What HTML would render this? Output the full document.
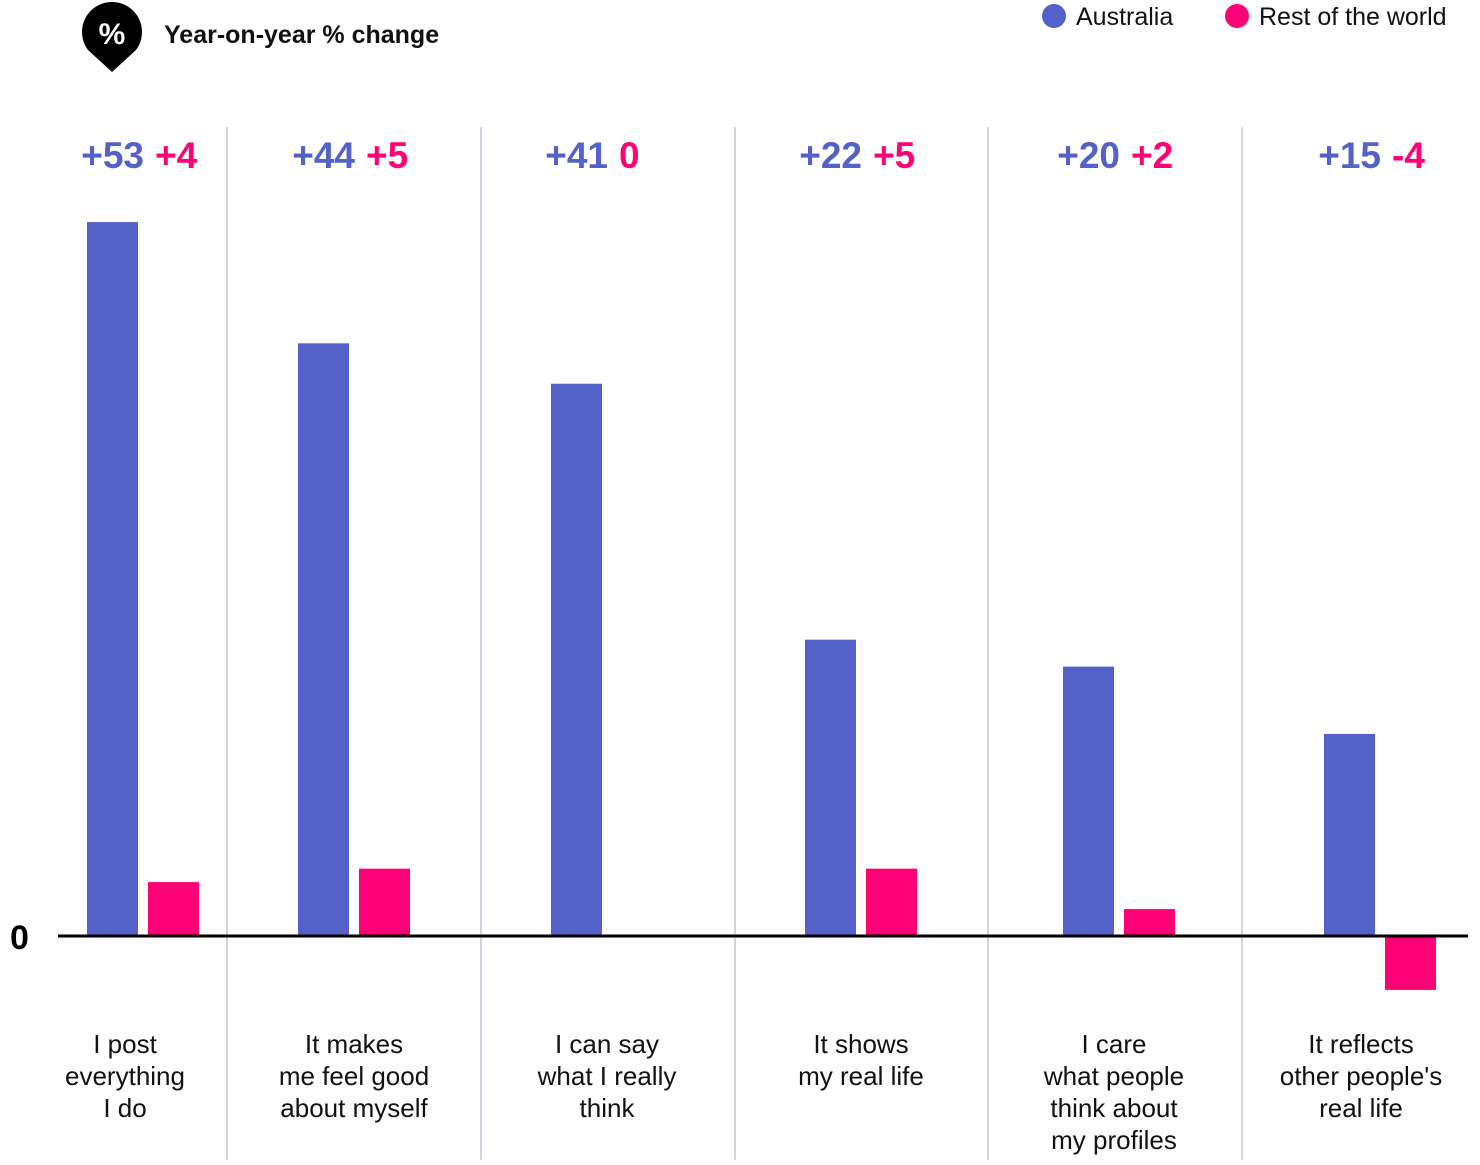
<!DOCTYPE html>
<html><head><meta charset="utf-8"><style>
body{margin:0;background:#fff;}
svg text{font-family:"Liberation Sans",sans-serif;}
</style></head><body>
<svg id="chart" width="1480" height="1160" viewBox="0 0 1480 1160" xmlns="http://www.w3.org/2000/svg">
<g>
<path d="M112 72 L88 50 A30 30 0 1 1 136 50 Z" fill="#000"/>
<text x="112" y="44" font-size="30" font-weight="bold" fill="#fff" text-anchor="middle">%</text>
</g>
<text x="164" y="43" font-size="25" font-weight="bold" fill="#111">Year-on-year % change</text>
<g>
<circle cx="1054" cy="16" r="12" fill="#5461C8"/>
<text x="1076" y="25" font-size="25" fill="#111">Australia</text>
<circle cx="1237" cy="16" r="12" fill="#FF0077"/>
<text x="1259" y="25" font-size="25" fill="#111">Rest of the world</text>
</g>
<g id="plot"></g>
</svg>
<script>
const categories=[["I post","everything","I do"],["It makes","me feel good","about myself"],["I can say","what I really","think"],["It shows","my real life"],["I care","what people","think about","my profiles"],["It reflects","other people's","real life"]];
const australia=[53,44,41,22,20,15];
const restOfWorld=[4,5,0,5,2,-4];
const ausLabels=["+53","+44","+41","+22","+20","+15"];
const rowLabels=["+4","+5","0","+5","+2","-4"];
const NS="http://www.w3.org/2000/svg";
const g=document.getElementById('plot');
const zeroY=936, pxPerUnit=13.47;
function y(v){return zeroY-v*pxPerUnit;}
const centers=[143,354,607,861,1119,1380];
function xc(i){return centers[i];}
function mk(t,a){const e=document.createElementNS(NS,t);for(const k in a)e.setAttribute(k,a[k]);g.appendChild(e);return e;}
[227,481,735,988,1242].forEach(function(dx){
const l=mk('line',{x1:dx,x2:dx,y1:127,y2:1160,stroke:'#d4d4e0','stroke-width':2});


});
categories.forEach(function(c,i){
const cx=xc(i);
const b=mk('rect',{x:cx-56,width:51,y:Math.min(y(australia[i]),zeroY),height:Math.abs(y(australia[i])-zeroY),fill:'#5461C8'});


const p=mk('rect',{x:cx+5,width:51,y:Math.min(y(restOfWorld[i]),zeroY),height:Math.abs(y(restOfWorld[i])-zeroY),fill:'#FF0077'});


const t1=mk('text',{x:cx+1,y:168,'font-size':37,'font-weight':'bold',fill:'#5461C8','text-anchor':'end'});
t1.textContent=ausLabels[i];


const t2=mk('text',{x:cx+12,y:168,'font-size':37,'font-weight':'bold',fill:'#FF0077'});
t2.textContent=rowLabels[i];


const lx=[125,354,607,861,1114,1361][i];
const lab=mk('text',{x:lx,y:1053,'font-size':26,fill:'#111','text-anchor':'middle'});


c.forEach(function(line,j){const ts=document.createElementNS(NS,'tspan');ts.setAttribute('x',lx);ts.setAttribute('dy',j?32:0);ts.textContent=line;lab.appendChild(ts);});
});
const z=mk('line',{x1:58,x2:1468,y1:zeroY,y2:zeroY,stroke:'#000','stroke-width':3});


const zt=mk('text',{x:10,y:949,'font-size':34,'font-weight':'bold',fill:'#000'});
zt.textContent='0';


</script>
</body></html>
